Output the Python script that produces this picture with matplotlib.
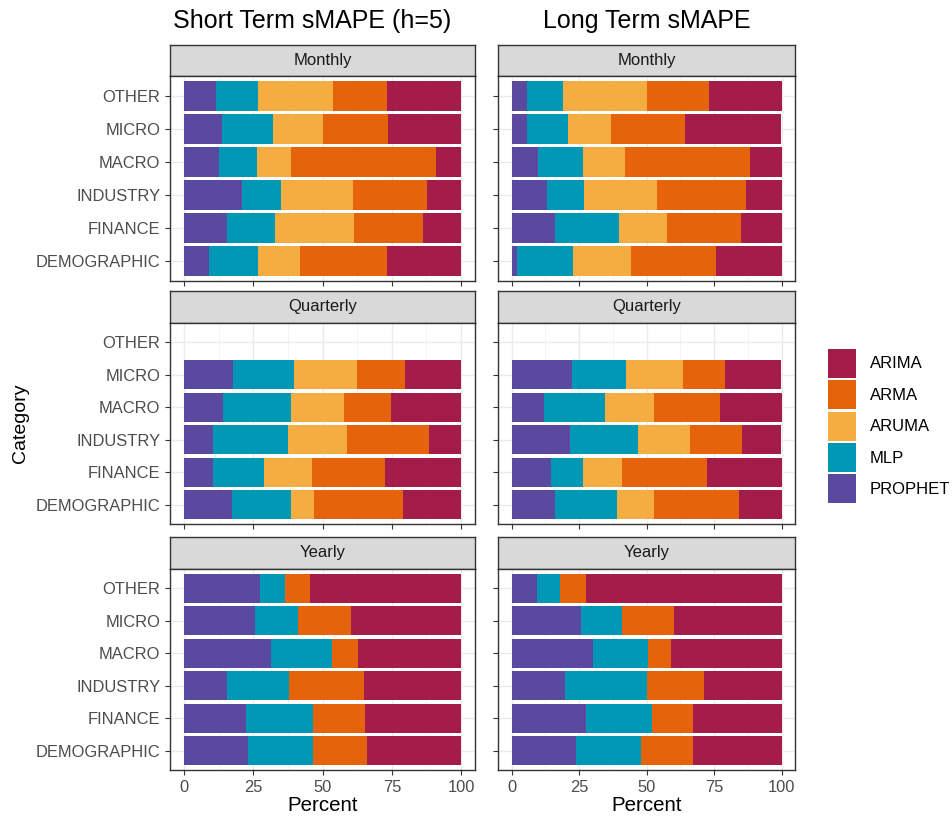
import numpy as np
import matplotlib
matplotlib.use("Agg")
import matplotlib.pyplot as plt
from matplotlib.patches import Patch

plt.rcParams['font.family'] = ['Liberation Sans', 'DejaVu Sans']

# categories, bottom to top as drawn
categories = ["DEMOGRAPHIC", "FINANCE", "INDUSTRY", "MACRO", "MICRO", "OTHER"]
models = ["PROPHET", "MLP", "ARUMA", "ARMA", "ARIMA"]
colors = {"PROPHET": "#5A4A9F", "MLP": "#0098B5", "ARUMA": "#F5AC41",
          "ARMA": "#E5630B", "ARIMA": "#A41C4A"}
freqs = ["Monthly", "Quarterly", "Yearly"]
titles = ["Short Term sMAPE (h=5)", "Long Term sMAPE"]

# percent shares per model, order follows `categories`
# short term
st_monthly = {
    "PROPHET": [9.1, 15.7, 20.8, 12.6, 13.7, 11.7],
    "MLP":     [17.7, 17.3, 14.2, 13.7, 18.3, 15.1],
    "ARUMA":   [15.2, 28.4, 25.9, 12.2, 18.2, 27.0],
    "ARMA":    [31.1, 24.8, 26.8, 52.4, 23.5, 19.3],
    "ARIMA":   [26.9, 13.8, 12.3, 9.1, 26.3, 26.9],
}
st_quarterly = {
    "PROPHET": [17.2, 10.6, 10.6, 14.2, 17.7, np.nan],
    "MLP":     [21.3, 18.3, 27.0, 24.4, 21.9, np.nan],
    "ARUMA":   [8.6, 17.2, 21.3, 19.2, 22.8, np.nan],
    "ARMA":    [32.0, 26.4, 29.4, 16.8, 17.2, np.nan],
    "ARIMA":   [20.9, 27.5, 11.7, 25.4, 20.4, np.nan],
}
st_yearly = {
    "PROPHET": [23.3, 22.3, 15.7, 31.4, 25.8, 27.3],
    "MLP":     [23.4, 24.4, 22.3, 22.0, 15.3, 9.2],
    "ARUMA":   [0, 0, 0, 0, 0, 0],
    "ARMA":    [19.2, 18.7, 26.9, 9.5, 19.3, 9.1],
    "ARIMA":   [34.1, 34.6, 35.1, 37.1, 39.6, 54.4],
}
# long term
lt_monthly = {
    "PROPHET": [2.1, 16.1, 13.0, 9.9, 5.7, 5.7],
    "MLP":     [20.7, 23.8, 14.0, 16.6, 15.1, 13.5],
    "ARUMA":   [21.3, 17.6, 27.0, 15.5, 16.0, 31.0],
    "ARMA":    [31.5, 27.5, 33.0, 46.5, 27.4, 22.8],
    "ARIMA":   [24.4, 15.0, 13.0, 11.5, 35.8, 27.0],
}
lt_quarterly = {
    "PROPHET": [16.1, 14.5, 21.8, 11.9, 22.3, np.nan],
    "MLP":     [22.8, 11.9, 25.2, 22.8, 20.2, np.nan],
    "ARUMA":   [13.9, 14.4, 19.2, 18.1, 21.2, np.nan],
    "ARMA":    [31.6, 31.7, 19.2, 24.4, 15.5, np.nan],
    "ARIMA":   [15.6, 27.5, 14.6, 22.8, 20.8, np.nan],
}
lt_yearly = {
    "PROPHET": [23.8, 27.5, 19.7, 30.1, 25.9, 9.4],
    "MLP":     [24.3, 24.4, 30.5, 20.6, 14.9, 8.7],
    "ARUMA":   [0, 0, 0, 0, 0, 0],
    "ARMA":    [19.2, 15.4, 21.2, 8.3, 19.3, 9.4],
    "ARIMA":   [32.7, 32.7, 28.6, 41.0, 39.9, 72.5],
}
panels = [[st_monthly, st_quarterly, st_yearly],
          [lt_monthly, lt_quarterly, lt_yearly]]

W, H = 952, 823
def box(x0, y0, x1, y1):
    return [x0 / W, 1 - y1 / H, (x1 - x0) / W, (y1 - y0) / H]

fig = plt.figure(figsize=(W / 100, H / 100), dpi=100)

cols = [(170, 475), (498, 795)]
rows = [(45, 76, 281), (291, 323, 524), (537, 569, 770)]
title_x = [312, 647]
edge = "#333333"

for ci, (x0, x1) in enumerate(cols):
    fig.text(title_x[ci] / W, 1 - 28 / H, titles[ci], ha="center", va="baseline",
             fontsize=18, color="black")
    for ri, (s0, p0, p1) in enumerate(rows):
        # strip
        sax = fig.add_axes(box(x0, s0, x1, p0))
        sax.set_facecolor("#D9D9D9")
        sax.set_xticks([]); sax.set_yticks([])
        for sp in sax.spines.values():
            sp.set_color(edge); sp.set_linewidth(1.0)
        sax.text(0.5, 0.5, freqs[ri], ha="center", va="center",
                 fontsize=12, color="#1A1A1A", transform=sax.transAxes)

        ax = fig.add_axes(box(x0, p0, x1, p1))
        data = panels[ci][ri]
        ypos = np.arange(1, len(categories) + 1)
        left = np.zeros(len(categories))
        for m in models:
            vals = np.array(data[m], dtype=float)
            ok = ~np.isnan(vals) & (vals > 0)
            ax.barh(ypos[ok], vals[ok], left=left[ok], height=0.9,
                    color=colors[m], linewidth=0, zorder=3)
            left = left + np.nan_to_num(vals)
        ax.set_xlim(-5, 105)
        ax.set_ylim(0.4, 6.6)
        ax.set_xticks([0, 25, 50, 75, 100])
        ax.set_xticks([12.5, 37.5, 62.5, 87.5], minor=True)
        ax.set_yticks(ypos)
        ax.grid(True, which="major", color="#EBEBEB", linewidth=1.0, zorder=0)
        ax.grid(True, which="minor", axis="x", color="#F2F2F2", linewidth=0.6, zorder=0)
        ax.set_axisbelow(True)
        for sp in ax.spines.values():
            sp.set_color(edge); sp.set_linewidth(1.0)
        ax.tick_params(which="major", length=3.5, width=0.8, color=edge,
                       labelsize=11.9, labelcolor="#4D4D4D")
        ax.tick_params(which="minor", length=0)
        if ci == 0:
            ax.set_yticklabels(categories)
        else:
            ax.set_yticklabels([])
        if ri == 2:
            ax.set_xticklabels(["0", "25", "50", "75", "100"])
            ax.set_xlabel("Percent", fontsize=14.8, color="black", labelpad=1)
        else:
            ax.set_xticklabels([])

fig.text(20 / W, 1 - 423 / H, "Category", rotation=90, ha="center", va="center",
         fontsize=14, color="black")

handles = [Patch(facecolor=colors[m], edgecolor="none", label=m) for m in reversed(models)]
fig.legend(handles=handles, loc="center left", bbox_to_anchor=(828 / W, 1 - 426 / H),
           frameon=False, fontsize=12, handlelength=1.7, handleheight=2.3,
           handletextpad=0.8, labelspacing=0.15, borderaxespad=0, borderpad=0)

fig.savefig("out.png", dpi=100, facecolor="white")
